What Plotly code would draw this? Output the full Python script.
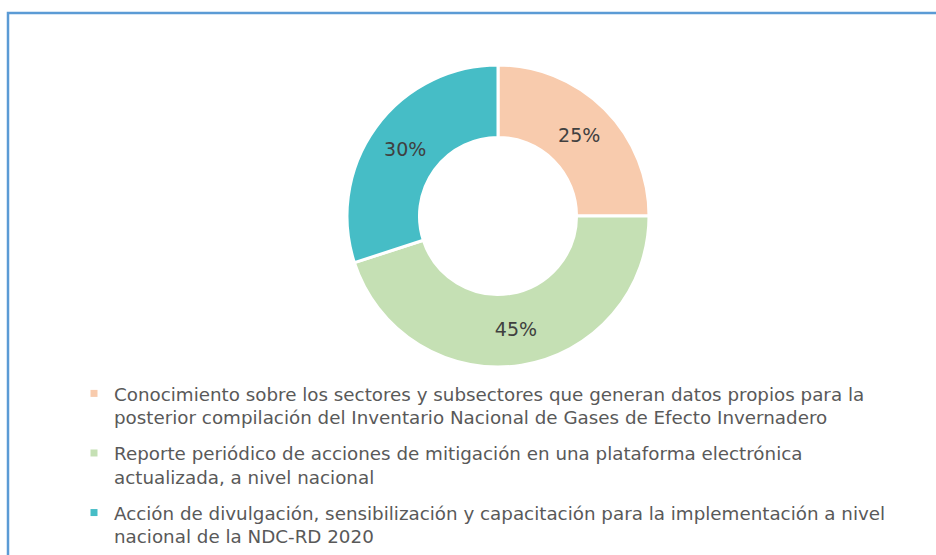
import plotly.graph_objects as go

labels = [
    "Conocimiento sobre los sectores y subsectores que generan datos propios para la<br>posterior compilación del Inventario Nacional de Gases de Efecto Invernadero",
    "Reporte periódico de acciones de mitigación en una plataforma electrónica<br>actualizada, a nivel nacional",
    "Acción de divulgación, sensibilización y capacitación para la implementación a nivel<br>nacional de la NDC-RD 2020",
]
values = [25, 45, 30]
colors = ["#F8CBAD", "#C5E0B4", "#46BDC6"]

fig = go.Figure()
fig.add_trace(go.Pie(
    labels=labels, values=values, hole=0.52, sort=False, direction="clockwise",
    marker=dict(colors=colors, line=dict(color="white", width=3)),
    textinfo="percent", texttemplate="%{percent:.0%}", textposition="inside",
    insidetextorientation="horizontal",
    textfont=dict(family="DejaVu Sans", size=19, color="#404040"),
    domain=dict(x=[346/936, 650/936], y=[(555-367)/555, (555-65)/555]),
    showlegend=False, hoverinfo="label+percent",
))
for i, (lab, col) in enumerate(zip(labels, colors)):
    fig.add_trace(go.Scatter(
        x=[None], y=[None], mode="markers", name=lab,
        legendgroup=f"g{i}",
        marker=dict(symbol="square", size=7, color=col),
        showlegend=True,
    ))

fig.update_layout(
    width=936, height=555,
    margin=dict(l=0, r=0, t=0, b=0, autoexpand=False),
    paper_bgcolor="white", plot_bgcolor="white",
    xaxis=dict(visible=False), yaxis=dict(visible=False),
    legend=dict(
        x=74/936, xanchor="left", y=(555-375)/555, yanchor="top",
        font=dict(family="DejaVu Sans", size=18.3, color="#595959"),
        valign="top", itemclick=False, bgcolor="rgba(0,0,0,0)",
        tracegroupgap=9,
    ),
    shapes=[dict(type="rect", xref="paper", yref="paper",
                 x0=8/936, x1=1.02, y0=-0.02, y1=(555-13)/555,
                 line=dict(color="#5B9BD5", width=2.5), fillcolor="rgba(0,0,0,0)")],
)
fig.write_html("out.html", config={"displayModeBar": False},
               post_script="document.body.style.margin='0';")
